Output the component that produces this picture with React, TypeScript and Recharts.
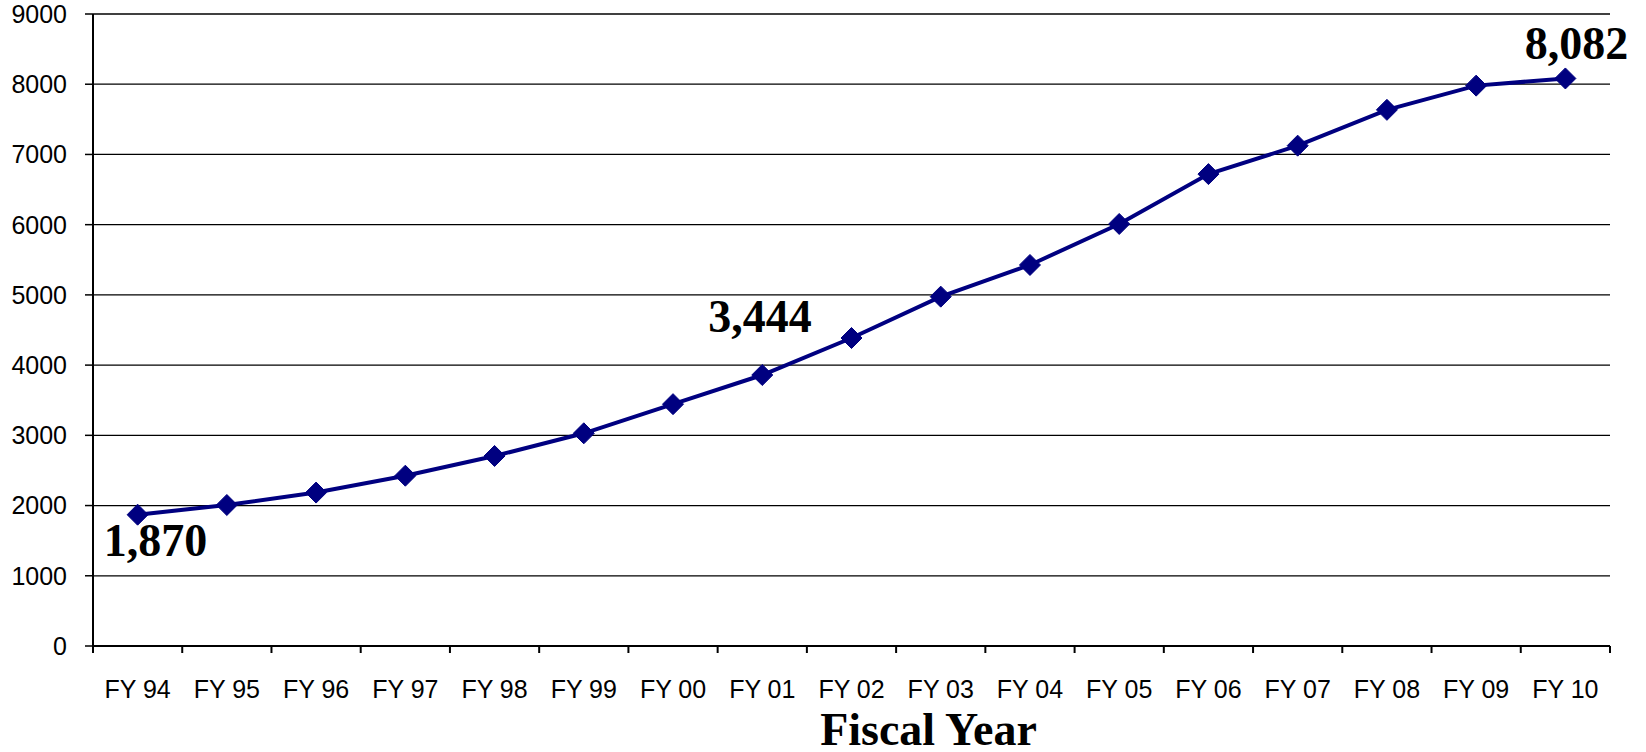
import { LineChart, Line, XAxis, YAxis, CartesianGrid } from 'recharts'

const fiscalYears = [
  'FY 94', 'FY 95', 'FY 96', 'FY 97', 'FY 98', 'FY 99', 'FY 00', 'FY 01', 'FY 02',
  'FY 03', 'FY 04', 'FY 05', 'FY 06', 'FY 07', 'FY 08', 'FY 09', 'FY 10',
]
const totals = [
  1870, 2008, 2185, 2425, 2706, 3029, 3444, 3859, 4386,
  4975, 5426, 6010, 6720, 7125, 7635, 7980, 8082,
]
const yTicks = [0, 1000, 2000, 3000, 4000, 5000, 6000, 7000, 8000, 9000]

// only these points get a big call-out label, nudged off the marker
const callouts: Record<number, { dx: number; dy: number }> = {
  0: { dx: 18, dy: 41 },
  6: { dx: 87, dy: -72 },
  16: { dx: 11, dy: -19 },
}

const data = fiscalYears.map((fy, i) => ({ fy, total: totals[i] }))

const W = 1646
const H = 752
const PLOT_LEFT = 93
const PLOT_RIGHT = 1610
const BAND = (PLOT_RIGHT - PLOT_LEFT) / fiscalYears.length
const NAVY = '#000080'
const SANS = '"Liberation Sans", Arial, sans-serif'
const SERIF = '"Liberation Serif", "Times New Roman", serif'

// diamond marker, plus the big value call-out on a few points
function Diamond(props: any) {
  const { cx, cy, index, payload } = props
  if (cx == null || cy == null) return null
  const r = 10.5
  const pos = callouts[index]
  return (
    <g>
      <polygon
        points={`${cx},${cy - r} ${cx + r},${cy} ${cx},${cy + r} ${cx - r},${cy}`}
        fill={NAVY}
        stroke={NAVY}
      />
      {pos && (
        <text
          x={cx + pos.dx}
          y={cy + pos.dy}
          textAnchor="middle"
          fontSize={46}
          fontWeight="bold"
          fontFamily={SERIF}
          fill="#000"
        >
          {Number(payload.total).toLocaleString('en-US')}
        </text>
      )}
    </g>
  )
}

// category ticks sit between the years, label under the band centre
function YearTick(props: any) {
  const { x, y, payload, index } = props
  const half = BAND / 2
  return (
    <g>
      <line x1={x - half} x2={x - half} y1={y} y2={y + 7} stroke="#000" strokeWidth={2} />
      {index === fiscalYears.length - 1 && (
        <line x1={x + half} x2={x + half} y1={y} y2={y + 7} stroke="#000" strokeWidth={2} />
      )}
      <text x={x} y={y + 52} textAnchor="middle" fontSize={25} fontFamily={SANS} fill="#000">
        {payload.value}
      </text>
    </g>
  )
}

export default function App() {
  return (
    <div style={{ position: 'absolute', left: 0, top: 0, background: '#fff' }}>
      <LineChart
        width={W}
        height={H}
        data={data}
        margin={{ top: 14, right: W - PLOT_RIGHT, bottom: 0, left: 0 }}
      >
        <CartesianGrid vertical={false} stroke="#000" strokeWidth={1.3} />
        <XAxis
          dataKey="fy"
          scale="band"
          height={106}
          interval={0}
          tickSize={0}
          tickMargin={0}
          tickLine={false}
          tick={<YearTick />}
          axisLine={{ stroke: '#000', strokeWidth: 2 }}
          label={{
            value: 'Fiscal Year',
            position: 'insideBottom',
            offset: 7,
            dx: 77,
            fontSize: 46,
            fontWeight: 'bold',
            fontFamily: SERIF,
            fill: '#000',
          }}
        />
        <YAxis
          width={PLOT_LEFT}
          domain={[0, 9000]}
          ticks={yTicks}
          interval={0}
          tickSize={8}
          tickMargin={18}
          tick={{ fontSize: 25, fontFamily: SANS, fill: '#000' }}
          tickLine={{ stroke: '#000', strokeWidth: 1.5 }}
          axisLine={{ stroke: '#000', strokeWidth: 2 }}
        />
        <Line
          type="linear"
          dataKey="total"
          stroke={NAVY}
          strokeWidth={4}
          dot={<Diamond />}
          activeDot={false}
          isAnimationActive={false}
        />
      </LineChart>
    </div>
  )
}
